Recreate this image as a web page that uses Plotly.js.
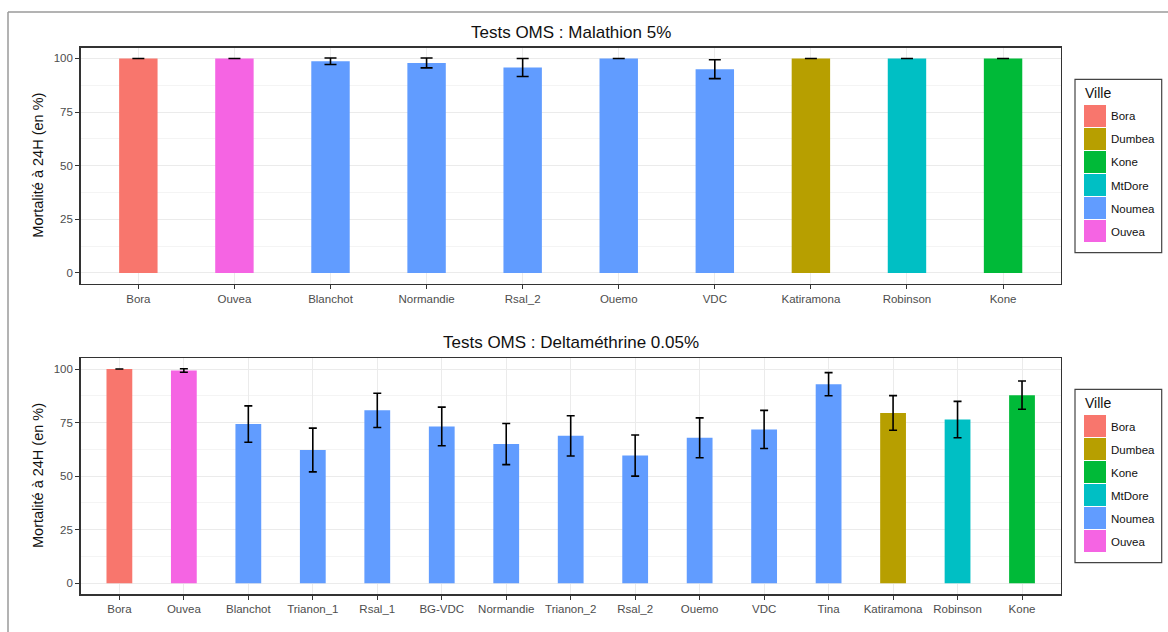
<!DOCTYPE html>
<html>
<head>
<meta charset="utf-8">
<script src="https://cdn.plot.ly/plotly-3.0.1.min.js"></script>
<style>html,body{margin:0;padding:0;background:#fff;}#chart{width:1168px;height:632px;}</style>
</head>
<body>
<div id="chart"></div>
<script>
// ---- Data ----
const villes = ["Bora", "Dumbea", "Kone", "MtDore", "Noumea", "Ouvea"];
const villeColors = ["#F8766D", "#B79F00", "#00BA38", "#00BFC4", "#619CFF", "#F564E3"];

const malaSites = ["Bora", "Ouvea", "Blanchot", "Normandie", "Rsal_2", "Ouemo", "VDC", "Katiramona", "Robinson", "Kone"];
const malaVille = ["Bora", "Ouvea", "Noumea", "Noumea", "Noumea", "Noumea", "Noumea", "Dumbea", "MtDore", "Kone"];
const malaMort = [100, 100, 98.7, 97.9, 95.8, 100, 95.0, 100, 100, 100];
const malaErr = [0, 0, 1.5, 2.3, 4.2, 0, 4.4, 0, 0, 0];

const deltaSites = ["Bora", "Ouvea", "Blanchot", "Trianon_1", "Rsal_1", "BG-VDC", "Normandie", "Trianon_2", "Rsal_2", "Ouemo", "VDC", "Tina", "Katiramona", "Robinson", "Kone"];
const deltaVille = ["Bora", "Ouvea", "Noumea", "Noumea", "Noumea", "Noumea", "Noumea", "Noumea", "Noumea", "Noumea", "Noumea", "Noumea", "Dumbea", "MtDore", "Kone"];
const deltaMort = [100, 99.3, 74.3, 62.2, 80.7, 73.2, 65.0, 68.8, 59.6, 67.9, 71.8, 92.9, 79.5, 76.4, 87.8];
const deltaErr = [0, 0.8, 8.5, 10.2, 8.0, 9.0, 9.6, 9.4, 9.6, 9.3, 8.9, 5.4, 8.1, 8.5, 6.6];

const titles = ["Tests OMS : Malathion 5%", "Tests OMS : Deltaméthrine 0.05%"];
const yTitle = "Mortalité à 24H (en %)";
const legendTitle = "Ville";

// ---- Layout geometry (pixels) ----
const W = 1168, H = 632;
const px = x => x / W;
const py = y => 1 - y / H;
const FONT = "Liberation Sans, Arial, Helvetica, sans-serif";

function panelTraces(sites, ville, mort, err, xa, ya, capW) {
  const traces = [];
  villes.forEach((v, vi) => {
    const xs = [], ys = [], es = [];
    sites.forEach((s, i) => {
      if (ville[i] === v) { xs.push(s); ys.push(mort[i]); es.push(err[i]); }
    });
    if (!xs.length) return;
    traces.push({
      type: "bar", x: xs, y: ys, name: v, width: 0.4,
      xaxis: xa, yaxis: ya, showlegend: false,
      marker: { color: villeColors[vi], line: { width: 0 } },
      error_y: { type: "data", array: es, visible: true, color: "#000000", thickness: 1.6, width: capW }
    });
  });
  return traces;
}

const data = [
  ...panelTraces(malaSites, malaVille, malaMort, malaErr, "x", "y", 6),
  ...panelTraces(deltaSites, deltaVille, deltaMort, deltaErr, "x2", "y2", 4)
];

const xDomain = [px(80.7), px(1060.7)];
function xAxis(sites, anchor) {
  return {
    domain: xDomain, anchor: anchor, type: "category",
    categoryorder: "array", categoryarray: sites,
    range: [-0.6, sites.length - 0.4],
    showline: true, mirror: true, linecolor: "#333333", linewidth: 1.5,
    showgrid: true, gridcolor: "#EBEBEB", gridwidth: 1,
    ticks: "outside", ticklen: 4, tickwidth: 1, tickcolor: "#333333",
    tickfont: { family: FONT, size: 11.5, color: "#4D4D4D" },
    fixedrange: true
  };
}
function yAxis(domain, anchor) {
  return {
    domain: domain, anchor: anchor, range: [-5, 105],
    tickmode: "linear", tick0: 0, dtick: 25,
    showline: true, mirror: true, linecolor: "#333333", linewidth: 1.5,
    showgrid: true, gridcolor: "#EBEBEB", gridwidth: 1, zeroline: false,
    minor: { tickmode: "linear", tick0: 12.5, dtick: 25, showgrid: true, gridcolor: "#F4F4F4", gridwidth: 1, ticks: "" },
    ticks: "outside", ticklen: 4, tickwidth: 1, tickcolor: "#333333",
    tickfont: { family: FONT, size: 11.5, color: "#4D4D4D" },
    fixedrange: true
  };
}

const annotations = [];
const shapes = [];

// Titles
[[32, titles[0]], [342.7, titles[1]]].forEach(([y, t]) => {
  annotations.push({ xref: "paper", yref: "paper", x: px(570.7), y: py(y), text: t,
    showarrow: false, xanchor: "center", yanchor: "middle",
    font: { family: FONT, size: 17, color: "#111111" } });
});
// Y titles
[165.7, 476].forEach(y => {
  annotations.push({ xref: "paper", yref: "paper", x: px(38), y: py(y), text: yTitle,
    showarrow: false, textangle: -90, xanchor: "center", yanchor: "middle",
    font: { family: FONT, size: 14.5, color: "#111111" } });
});

// Legends (one per panel)
[0, 310].forEach(off => {
  shapes.push({ type: "rect", xref: "paper", yref: "paper",
    x0: px(1075), x1: px(1161.7), y0: py(79.3 + off), y1: py(252.7 + off),
    line: { color: "#444444", width: 1.2 }, fillcolor: "#FFFFFF" });
  annotations.push({ xref: "paper", yref: "paper", x: px(1083), y: py(93 + off), text: legendTitle,
    showarrow: false, xanchor: "left", yanchor: "middle",
    font: { family: FONT, size: 14, color: "#111111" } });
  villes.forEach((v, i) => {
    const top = 105 + off + i * 23;
    shapes.push({ type: "rect", xref: "paper", yref: "paper",
      x0: px(1084), x1: px(1106), y0: py(top + 22), y1: py(top),
      line: { width: 0 }, fillcolor: villeColors[i] });
    annotations.push({ xref: "paper", yref: "paper", x: px(1109), y: py(top + 11.5), text: v,
      showarrow: false, xanchor: "left", yanchor: "middle",
      font: { family: FONT, size: 11.5, color: "#111111" } });
  });
});

// Outer frame of the figure
shapes.push({ type: "line", xref: "paper", yref: "paper", x0: px(8), x1: 1, y0: py(12), y1: py(12), line: { color: "#9A9A9A", width: 1.5 } });
shapes.push({ type: "line", xref: "paper", yref: "paper", x0: px(8), x1: px(8), y0: py(12), y1: 0, line: { color: "#9A9A9A", width: 1.5 } });

const layout = {
  width: W, height: H,
  margin: { l: 0, r: 0, t: 0, b: 0 },
  paper_bgcolor: "#FFFFFF", plot_bgcolor: "#FFFFFF",
  barmode: "overlay", showlegend: false,
  font: { family: FONT },
  xaxis: xAxis(malaSites, "y"),
  yaxis: yAxis([py(283.7), py(47.7)], "x"),
  xaxis2: xAxis(deltaSites, "y2"),
  yaxis2: yAxis([py(594), py(358.3)], "x2"),
  annotations: annotations,
  shapes: shapes
};

Plotly.newPlot("chart", data, layout, { displayModeBar: false, staticPlot: true });
</script>
</body>
</html>
